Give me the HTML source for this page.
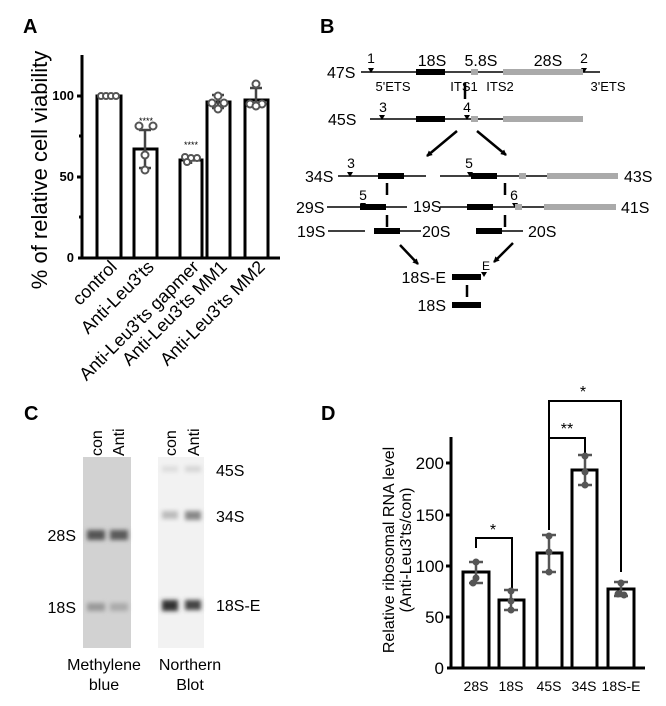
<!DOCTYPE html>
<html><head><meta charset="utf-8"><style>
html,body{margin:0;padding:0;background:#fff;}
svg{display:block;font-family:"Liberation Sans",Arial,sans-serif;}
</style></head><body>
<svg width="666" height="706" viewBox="0 0 666 706" xmlns="http://www.w3.org/2000/svg">
<defs>
<filter id="bl" x="-50%" y="-50%" width="200%" height="200%"><feGaussianBlur stdDeviation="2.2"/></filter>
<marker id="ah" markerWidth="6" markerHeight="6" refX="5" refY="3" orient="auto" markerUnits="userSpaceOnUse"><path d="M0,0 L6,3 L0,6 z" fill="#000"/></marker>
</defs>
<!-- Panel A -->
<text x="23" y="33" font-size="20" font-weight="bold">A</text>
<text transform="translate(47,170) rotate(-90)" font-size="22" text-anchor="middle">% of relative cell viability</text>
<g stroke="#000" stroke-width="3" fill="none">
<line x1="82" y1="55" x2="82" y2="258"/>
<line x1="78" y1="258" x2="280" y2="258"/>
<line x1="77" y1="96" x2="82" y2="96"/><line x1="77" y1="177" x2="82" y2="177"/>
<line x1="79" y1="136" x2="82" y2="136"/><line x1="79" y1="217" x2="82" y2="217"/>
<rect x="97" y="96" width="24" height="162" fill="#fff"/>
<rect x="134" y="149" width="23" height="109" fill="#fff"/>
<rect x="180" y="160" width="22" height="98" fill="#fff"/>
<rect x="207" y="102" width="23" height="156" fill="#fff"/>
<rect x="245" y="100" width="23" height="158" fill="#fff"/>
</g>
<g font-size="13" font-weight="bold" text-anchor="end">
<text x="74" y="100">100</text><text x="74" y="181">50</text><text x="74" y="262">0</text>
</g>
<g stroke="#444" stroke-width="2.5" fill="none">
<line x1="145" y1="130" x2="145" y2="168"/><line x1="139" y1="130" x2="151" y2="130"/><line x1="139" y1="168" x2="151" y2="168"/>
<line x1="191" y1="156" x2="191" y2="164"/>
<line x1="218" y1="95" x2="218" y2="108"/><line x1="212" y1="95" x2="224" y2="95"/><line x1="212" y1="108" x2="224" y2="108"/>
<line x1="256" y1="88" x2="256" y2="106"/><line x1="250" y1="88" x2="262" y2="88"/>
</g>
<g stroke="#555" stroke-width="2" fill="#fff">
<circle cx="101" cy="96" r="3"/><circle cx="106" cy="96" r="3"/><circle cx="111" cy="96" r="3"/><circle cx="116" cy="96" r="3"/>
<circle cx="139" cy="126" r="3.5"/><circle cx="153" cy="126" r="3.5"/><circle cx="145" cy="155" r="3.5"/><circle cx="145" cy="170" r="3.5"/>
<circle cx="185" cy="157" r="3"/><circle cx="191" cy="158" r="3"/><circle cx="197" cy="158" r="3"/><circle cx="187" cy="162" r="3"/>
<circle cx="218" cy="96" r="3.5"/><circle cx="212" cy="103" r="3.5"/><circle cx="224" cy="103" r="3.5"/><circle cx="218" cy="109" r="3.5"/>
<circle cx="256" cy="84" r="3.5"/><circle cx="250" cy="104" r="3.5"/><circle cx="262" cy="104" r="3.5"/><circle cx="256" cy="106" r="3.5"/>
</g>
<g font-size="9" text-anchor="middle"><text x="146" y="124">****</text><text x="191" y="148">****</text></g>
<g font-size="18" text-anchor="end">
<text transform="translate(118,268) rotate(-45)">control</text>
<text transform="translate(155,268) rotate(-45)">Anti-Leu3'ts</text>
<text transform="translate(200,268) rotate(-45)">Anti-Leu3'ts gapmer</text>
<text transform="translate(228,268) rotate(-45)">Anti-Leu3'ts MM1</text>
<text transform="translate(266,268) rotate(-45)">Anti-Leu3'ts MM2</text>
</g>
<!-- Panel B -->
<text x="320" y="33" font-size="20" font-weight="bold">B</text>
<g font-size="16">
<text x="327" y="78">47S</text><text x="328" y="125">45S</text>
<text x="305" y="182">34S</text><text x="624" y="182">43S</text>
<text x="296" y="213">29S</text><text x="413" y="212">19S</text><text x="621" y="213">41S</text>
<text x="297" y="237">19S</text><text x="422" y="237">20S</text><text x="528" y="237">20S</text>
<text x="446" y="283" text-anchor="end">18S-E</text><text x="446" y="311" text-anchor="end">18S</text>
<text x="432" y="66" text-anchor="middle">18S</text><text x="481" y="66" text-anchor="middle">5.8S</text><text x="548" y="66" text-anchor="middle">28S</text>
</g>
<g font-size="14" text-anchor="middle">
<text x="371" y="63">1</text><text x="584" y="63">2</text>
<text x="383" y="112">3</text><text x="467" y="112">4</text>
<text x="351" y="168">3</text><text x="469" y="168">5</text>
<text x="363" y="200">5</text><text x="514" y="200">6</text>
<text x="486" y="270" font-size="12">E</text>
</g>
<g font-size="13" text-anchor="middle">
<text x="393" y="91">5'ETS</text><text x="464" y="91">ITS1</text><text x="500" y="91">ITS2</text><text x="608" y="91">3'ETS</text>
</g>
<g stroke="#000" stroke-width="1.5">
<line x1="361" y1="72" x2="600" y2="72"/>
<line x1="370" y1="119" x2="583" y2="119"/>
<line x1="338" y1="176" x2="426" y2="176"/><line x1="440" y1="176" x2="618" y2="176"/>
<line x1="327" y1="207" x2="407" y2="207"/><line x1="440" y1="207" x2="616" y2="207"/>
<line x1="328" y1="231" x2="365" y2="231"/><line x1="400" y1="231" x2="421" y2="231"/><line x1="502" y1="231" x2="523" y2="231"/>
</g>
<g fill="#000">
<rect x="416" y="69" width="29" height="6"/><rect x="416" y="116" width="29" height="6"/>
<rect x="378" y="173" width="26" height="6"/><rect x="471" y="173" width="26" height="6"/>
<rect x="360" y="204" width="26" height="6"/><rect x="467" y="204" width="26" height="6"/>
<rect x="374" y="228" width="26" height="6"/><rect x="476" y="228" width="26" height="6"/>
<rect x="452" y="274" width="29" height="6"/><rect x="452" y="302" width="29" height="6"/>
<path d="M368,68 h6 l-3,5z M581,68 h6 l-3,5z M379,115 h6 l-3,5z M464,115 h6 l-3,5z M347,172 h6 l-3,5z M467,172 h6 l-3,5z M360,203 h6 l-3,5z M512,203 h6 l-3,5z M481,272 h6 l-3,5z"/>
</g>
<g fill="#aaa">
<rect x="471" y="69" width="7" height="6"/><rect x="503" y="69" width="80" height="6"/>
<rect x="471" y="116" width="7" height="6"/><rect x="503" y="116" width="80" height="6"/>
<rect x="519" y="173" width="7" height="6"/><rect x="547" y="173" width="71" height="6"/>
<rect x="515" y="204" width="7" height="6"/><rect x="544" y="204" width="72" height="6"/>
</g>
<g stroke="#000" stroke-width="2.5" fill="none">
<line x1="465" y1="83" x2="465" y2="99"/>
<line x1="387" y1="183" x2="387" y2="195"/><line x1="505" y1="183" x2="505" y2="195"/>
<line x1="387" y1="215" x2="387" y2="227"/><line x1="505" y1="215" x2="505" y2="227"/>
<line x1="467" y1="285" x2="467" y2="297"/>
<line x1="457" y1="131" x2="427" y2="156" marker-end="url(#ah)"/>
<line x1="477" y1="131" x2="506" y2="155" marker-end="url(#ah)"/>
<line x1="400" y1="245" x2="418" y2="264" marker-end="url(#ah)"/>
<line x1="513" y1="243" x2="494" y2="262" marker-end="url(#ah)"/>
</g>
<!-- Panel C -->
<text x="24" y="420" font-size="20" font-weight="bold">C</text>
<rect x="83" y="457" width="48" height="191" fill="#d2d2d2"/>
<rect x="158" y="457" width="46" height="191" fill="#f2f2f2"/>
<g filter="url(#bl)">
<rect x="87" y="530" width="18" height="10" fill="#555"/><rect x="110" y="530" width="18" height="10" fill="#5a5a5a"/>
<rect x="87" y="603" width="18" height="8" fill="#999"/><rect x="110" y="603" width="18" height="8" fill="#aaa"/>
<rect x="162" y="466" width="16" height="6" fill="#ddd"/><rect x="185" y="466" width="16" height="6" fill="#d5d5d5"/>
<rect x="162" y="511" width="16" height="8" fill="#bbb"/><rect x="185" y="511" width="16" height="9" fill="#888"/>
<rect x="162" y="600" width="16" height="11" fill="#333"/><rect x="185" y="600" width="16" height="10" fill="#444"/>
</g>
<g font-size="16">
<text transform="translate(102,456) rotate(-90)">con</text><text transform="translate(124,456) rotate(-90)">Anti</text>
<text transform="translate(176,456) rotate(-90)">con</text><text transform="translate(199,456) rotate(-90)">Anti</text>
<text x="76" y="541" text-anchor="end">28S</text><text x="76" y="613" text-anchor="end">18S</text>
<text x="216" y="476">45S</text><text x="216" y="522">34S</text><text x="216" y="611">18S-E</text>
<text x="104" y="670" text-anchor="middle">Methylene</text><text x="104" y="690" text-anchor="middle">blue</text>
<text x="190" y="670" text-anchor="middle">Northern</text><text x="190" y="690" text-anchor="middle">Blot</text>
</g>
<!-- Panel D -->
<text x="321" y="420" font-size="20" font-weight="bold">D</text>
<g font-size="16" text-anchor="middle">
<text transform="translate(394,550) rotate(-90)">Relative ribosomal RNA level</text>
<text transform="translate(411,550) rotate(-90)">(Anti-Leu3'ts/con)</text>
</g>
<g stroke="#000" stroke-width="3" fill="none">
<line x1="451" y1="437" x2="451" y2="668"/>
<line x1="447" y1="668" x2="645" y2="668"/>
<line x1="446" y1="463" x2="451" y2="463"/><line x1="446" y1="515" x2="451" y2="515"/><line x1="446" y1="566" x2="451" y2="566"/><line x1="446" y1="617" x2="451" y2="617"/>
<rect x="463" y="572" width="26" height="96" fill="#fff"/>
<rect x="499" y="600" width="25" height="68" fill="#fff"/>
<rect x="537" y="553" width="25" height="115" fill="#fff"/>
<rect x="572" y="470" width="25" height="198" fill="#fff"/>
<rect x="608" y="589" width="26" height="79" fill="#fff"/>
</g>
<g stroke="#000" stroke-width="2" fill="none">
<path d="M476,548 V538 H512 V590"/>
<path d="M549,530 V438 H585 V455"/>
<path d="M549,438 V401 H621 V572"/>
</g>
<g font-size="16" text-anchor="middle"><text x="493" y="535">*</text><text x="567" y="434">**</text><text x="583" y="397">*</text></g>
<g font-size="17" text-anchor="end"><text x="444" y="469">200</text><text x="444" y="521">150</text><text x="444" y="572">100</text><text x="444" y="623">50</text><text x="444" y="674">0</text></g>
<g font-size="14" text-anchor="middle"><text x="476" y="691">28S</text><text x="511" y="691">18S</text><text x="549" y="691">45S</text><text x="584" y="691">34S</text><text x="621" y="691">18S-E</text></g>
<g stroke="#555" stroke-width="2.5">
<line x1="476" y1="562" x2="476" y2="583"/><line x1="469" y1="562" x2="483" y2="562"/><line x1="469" y1="583" x2="483" y2="583"/>
<line x1="511" y1="590" x2="511" y2="610"/><line x1="504" y1="590" x2="518" y2="590"/><line x1="504" y1="610" x2="518" y2="610"/>
<line x1="549" y1="535" x2="549" y2="572"/><line x1="542" y1="535" x2="556" y2="535"/><line x1="542" y1="572" x2="556" y2="572"/>
<line x1="585" y1="455" x2="585" y2="485"/><line x1="578" y1="455" x2="592" y2="455"/><line x1="578" y1="485" x2="592" y2="485"/>
<line x1="621" y1="582" x2="621" y2="596"/><line x1="614" y1="582" x2="628" y2="582"/><line x1="614" y1="596" x2="628" y2="596"/>
</g>
<g fill="#555">
<circle cx="476" cy="562" r="3.5"/><circle cx="476" cy="578" r="3.5"/><circle cx="473" cy="583" r="3.5"/>
<circle cx="511" cy="591" r="3.5"/><circle cx="511" cy="601" r="3.5"/><circle cx="511" cy="610" r="3.5"/>
<circle cx="549" cy="536" r="3.5"/><circle cx="549" cy="552" r="3.5"/><circle cx="549" cy="572" r="3.5"/>
<circle cx="585" cy="456" r="3.5"/><circle cx="585" cy="472" r="3.5"/><circle cx="585" cy="485" r="3.5"/>
<circle cx="621" cy="583" r="3.5"/><circle cx="618" cy="594" r="3.5"/><circle cx="624" cy="595" r="3.5"/>
</g>
</svg>
</body></html>
